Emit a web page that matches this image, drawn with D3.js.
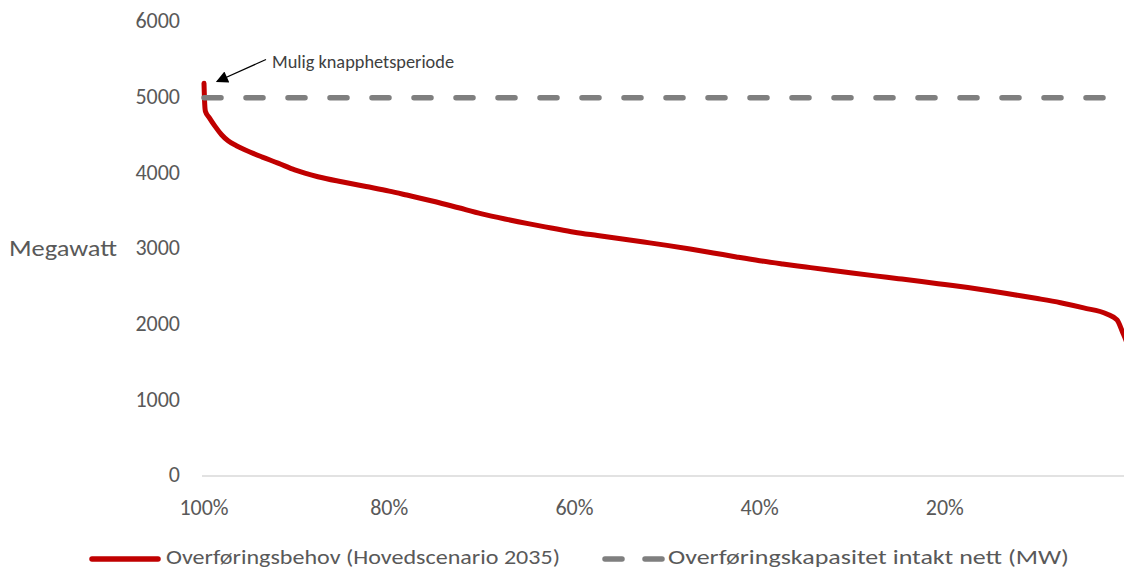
<!DOCTYPE html>
<html>
<head>
<meta charset="utf-8">
<script src="https://cdn.jsdelivr.net/npm/d3@7"></script>
<style>
  html, body { margin: 0; padding: 0; background: #fff; }
  svg { display: block; font-family: Carlito, Calibri, Lato, sans-serif; }
</style>
</head>
<body>
<svg id="chart" width="1124" height="572"></svg>
<script>
// Share of hours (percent, sorted from highest load) and transfer need in MW
const hourShare = [100, 99.95, 99.85, 99.4, 98.8, 98.1, 97.4, 96.5, 95.6, 93.7, 92.0, 90.2, 87.7, 85, 82.5, 80, 78.1,
  75, 72.5, 70, 67.5, 65, 62.5, 60, 57.5, 55, 52.5, 50, 47.5, 45, 42.5, 40, 37.5, 35, 32.5, 30,
  27.5, 25, 22.5, 20, 17.5, 15, 12.5, 10, 7.5, 5, 2.5, 1.4, 0.8, 0.4, 0];
const transferNeed = [5190, 4990, 4820, 4730, 4620, 4510, 4430, 4365, 4312, 4215, 4135, 4045, 3955, 3885, 3825, 3765, 3713,
  3625, 3545, 3465, 3397, 3335, 3278, 3222, 3178, 3135, 3092, 3048, 3000, 2948, 2895, 2845, 2802, 2762, 2722, 2683,
  2645, 2608, 2570, 2530, 2490, 2445, 2395, 2345, 2290, 2221, 2141, 2062, 1900, 1780, 1600];
const capacity = 5000;
const yTicks = [0, 1000, 2000, 3000, 4000, 5000, 6000];
const xTicks = [100, 80, 60, 40, 20];
const seriesNames = ["Overføringsbehov (Hovedscenario 2035)", "Overføringskapasitet intakt nett (MW)"];
const yTitle = "Megawatt";
const note = "Mulig knapphetsperiode";

const svg = d3.select("#chart");
const textColor = "#595959";

const x = d3.scaleLinear().domain([100, 0]).range([204, 1130]);
const y = d3.scaleLinear().domain([0, 6000]).range([476, 22]);

// baseline axis
svg.append("line")
  .attr("x1", 202).attr("x2", 1130)
  .attr("y1", y(0)).attr("y2", y(0))
  .attr("stroke", "#d9d9d9").attr("stroke-width", 1.3);

// y tick labels
svg.append("g").selectAll("text").data(yTicks).join("text")
  .attr("x", 180).attr("y", d => y(d) + 1)
  .attr("text-anchor", "end").attr("dominant-baseline", "middle")
  .attr("font-size", 22).attr("fill", textColor)
  .text(d => d);

// x tick labels
svg.append("g").selectAll("text").data(xTicks).join("text")
  .attr("x", d => x(d)).attr("y", 515)
  .attr("text-anchor", "middle")
  .attr("font-size", 22).attr("fill", textColor)
  .text(d => d + "%");

// y title
svg.append("text")
  .attr("x", 9).attr("y", 251)
  .attr("dominant-baseline", "middle")
  .attr("font-size", 22).attr("fill", textColor)
  .attr("textLength", 108).attr("lengthAdjust", "spacingAndGlyphs")
  .text(yTitle);

// duration curve
const pts = hourShare.map((p, i) => [p, transferNeed[i]]);
svg.append("path")
  .datum(pts)
  .attr("fill", "none")
  .attr("stroke", "#c00000")
  .attr("stroke-width", 5)
  .attr("stroke-linecap", "round")
  .attr("stroke-linejoin", "round")
  .attr("d", d3.line().x(d => x(d[0])).y(d => y(d[1])).curve(d3.curveMonotoneX));

// capacity line
svg.append("line")
  .attr("x1", x(100)).attr("x2", x(0))
  .attr("y1", y(capacity)).attr("y2", y(capacity))
  .attr("stroke", "#7f7f7f")
  .attr("stroke-width", 5.5)
  .attr("stroke-linecap", "round")
  .attr("stroke-dasharray", "17 25");

// annotation arrow
const defs = svg.append("defs");
defs.append("marker")
  .attr("id", "arrowHead")
  .attr("viewBox", "0 0 10 10")
  .attr("refX", 9).attr("refY", 5)
  .attr("markerWidth", 15).attr("markerHeight", 12)
  .attr("markerUnits", "userSpaceOnUse")
  .attr("orient", "auto")
  .append("path").attr("d", "M0,0 L10,5 L0,10 Z").attr("fill", "#000");

svg.append("line")
  .attr("x1", 266).attr("y1", 59.5)
  .attr("x2", 217).attr("y2", 81.5)
  .attr("stroke", "#000").attr("stroke-width", 1.2)
  .attr("marker-end", "url(#arrowHead)");

svg.append("text")
  .attr("x", 272).attr("y", 68)
  .attr("font-size", 18).attr("fill", "#404040")
  .attr("textLength", 182).attr("lengthAdjust", "spacingAndGlyphs")
  .text(note);

// legend
const legY = 559;
svg.append("line")
  .attr("x1", 92).attr("x2", 158)
  .attr("y1", legY).attr("y2", legY)
  .attr("stroke", "#c00000").attr("stroke-width", 5.5)
  .attr("stroke-linecap", "round");
svg.append("text")
  .attr("x", 166).attr("y", legY)
  .attr("dominant-baseline", "middle")
  .attr("font-size", 21).attr("fill", textColor)
  .attr("textLength", 394).attr("lengthAdjust", "spacingAndGlyphs")
  .text(seriesNames[0]);

svg.append("line")
  .attr("x1", 605).attr("x2", 662)
  .attr("y1", legY).attr("y2", legY)
  .attr("stroke", "#7f7f7f").attr("stroke-width", 5.5)
  .attr("stroke-linecap", "round")
  .attr("stroke-dasharray", "17 23");
svg.append("text")
  .attr("x", 668).attr("y", legY)
  .attr("dominant-baseline", "middle")
  .attr("font-size", 21).attr("fill", textColor)
  .attr("textLength", 401).attr("lengthAdjust", "spacingAndGlyphs")
  .text(seriesNames[1]);
</script>
</body>
</html>
